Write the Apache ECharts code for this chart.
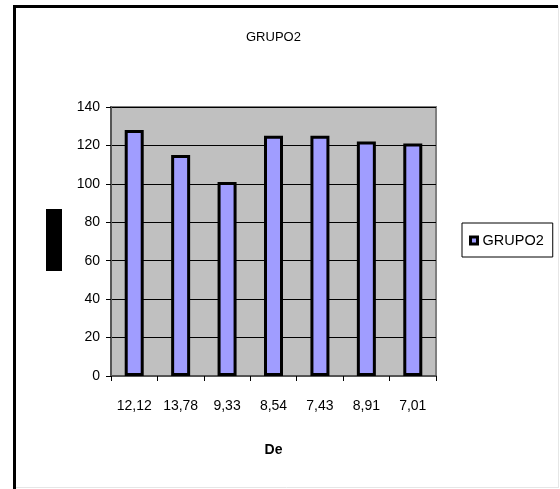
<!DOCTYPE html>
<html>
<head>
<meta charset="utf-8">
<style>
  html, body { margin: 0; padding: 0; background: #ffffff; }
  #chart { width: 560px; height: 489px; }
</style>
<script src="https://cdn.jsdelivr.net/npm/echarts@6/dist/echarts.min.js"></script>
</head>
<body>
<div id="chart"></div>
<script>
// Category labels along the x axis (De)
const categories = ['12,12', '13,78', '9,33', '8,54', '7,43', '8,91', '7,01'];
// Bar heights for the GRUPO2 series
const grupo2Values = [128, 115, 101, 125, 125, 122, 121];
// Value axis range
const yMin = 0;
const yMax = 140;
const yStep = 20;

const chart = echarts.init(document.getElementById('chart'), null, { renderer: 'canvas' });
const font = '"Liberation Sans", Arial, sans-serif';

chart.setOption({
  animation: false,
  backgroundColor: '#ffffff',
  textStyle: { fontFamily: font, color: '#000000' },
  title: {
    text: 'GRUPO2',
    left: 241,
    top: 26,
    textStyle: { fontFamily: font, fontSize: 13, fontWeight: 'normal', color: '#000000' }
  },
  legend: {
    data: ['GRUPO2'],
    orient: 'vertical',
    left: 462,
    top: 223,
    padding: [10, 9, 9, 7],
    borderColor: '#000000',
    borderWidth: 1,
    icon: 'rect',
    itemWidth: 7,
    itemHeight: 7,
    itemStyle: { borderColor: '#000000', borderWidth: 3 },
    textStyle: { fontFamily: font, fontSize: 14.5, color: '#000000' }
  },
  grid: {
    left: 111,
    right: 124,
    top: 107,
    bottom: 113,
    show: true,
    backgroundColor: '#c0c0c0',
    borderColor: '#808080',
    borderWidth: 2
  },
  xAxis: {
    type: 'category',
    data: categories,
    name: 'De',
    nameLocation: 'middle',
    nameGap: 67,
    nameTextStyle: { fontFamily: font, fontSize: 14, fontWeight: 'bold', color: '#000000' },
    axisLine: { lineStyle: { color: '#555555', width: 2 } },
    axisTick: { show: true, length: 5, lineStyle: { color: '#000000', width: 1 } },
    axisLabel: { margin: 23, fontFamily: font, fontSize: 14, color: '#000000' },
    splitLine: { show: false }
  },
  yAxis: {
    type: 'value',
    min: yMin,
    max: yMax,
    interval: yStep,
    axisLine: { show: true, lineStyle: { color: '#555555', width: 2 } },
    axisTick: { show: true, length: 5, lineStyle: { color: '#000000', width: 1 } },
    axisLabel: { margin: 11, fontFamily: font, fontSize: 14, color: '#000000' },
    splitLine: { show: true, lineStyle: { color: '#000000', width: 1 } }
  },
  series: [{
    name: 'GRUPO2',
    type: 'bar',
    data: grupo2Values,
    barWidth: 19,
    itemStyle: { color: '#a09dff', borderColor: '#000000', borderWidth: 3 }
  }],
  graphic: [
    // outer chart frame: heavy left/top edges, faint right/bottom edges
    { type: 'line', shape: { x1: 558.5, y1: 6, x2: 558.5, y2: 487.5 }, style: { stroke: '#e6e6e6', lineWidth: 1 } },
    { type: 'line', shape: { x1: 14, y1: 487.5, x2: 559, y2: 487.5 }, style: { stroke: '#e6e6e6', lineWidth: 1 } },
    { type: 'line', shape: { x1: 14.5, y1: 5, x2: 14.5, y2: 489 }, style: { stroke: '#000000', lineWidth: 3 } },
    { type: 'line', shape: { x1: 13, y1: 6.5, x2: 558, y2: 6.5 }, style: { stroke: '#000000', lineWidth: 3 } },
    // y axis title block
    { type: 'rect', shape: { x: 46, y: 209, width: 16, height: 62 }, style: { fill: '#000000' } }
  ]
});
</script>
</body>
</html>
